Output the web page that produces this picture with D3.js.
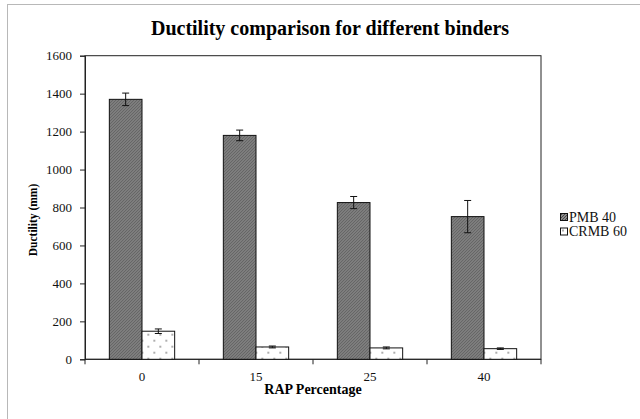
<!DOCTYPE html>
<meta charset="utf-8">
<head>
    <title>Ductility comparison</title>
    <script src="https://d3js.org/d3.v7.min.js"></script>
    <style>
        body { margin: 0; background: #fff; }
    </style>
</head>
<body>
<div id="chart"></div>
<script>
    // Data
    var categories = ["0", "15", "25", "40"];
    var seriesNames = ["PMB 40", "CRMB 60"];
    var pmbValues = [1370, 1180, 826, 752];
    var pmbErrors = [33, 28, 32, 85];
    var crmbValues = [148, 65, 60, 56];
    var crmbErrors = [12, 5, 5, 4];
    var yTicks = [0, 200, 400, 600, 800, 1000, 1200, 1400, 1600];

    var FONT = "'Liberation Serif', 'Times New Roman', Times, serif";
    var W = 640, H = 419;
    var margin = {top: 55.7, left: 85};
    var width = 541 - margin.left,
        height = 359.3 - margin.top;

    var svg = d3.select("#chart").append("svg")
        .attr("width", W).attr("height", H)
        .attr("font-family", FONT);

    // outer chart frame (only left and top edge visible)
    svg.append("rect")
        .attr("x", 7.5).attr("y", 4.5)
        .attr("width", W).attr("height", H)
        .attr("fill", "none").attr("stroke", "#b8b8b8");

    // patterns
    var defs = svg.append("defs");
    var p1 = defs.append("pattern")
        .attr("id", "hatch").attr("patternUnits", "userSpaceOnUse")
        .attr("width", 3).attr("height", 3);
    p1.append("rect").attr("width", 3).attr("height", 3).attr("fill", "#a8a8a8");
    p1.append("path").attr("d", "M0,3 L3,0 M-1,1 L1,-1 M2,4 L4,2")
        .attr("stroke", "#444").attr("stroke-width", 1.1);

    var p2 = defs.append("pattern")
        .attr("id", "dots").attr("patternUnits", "userSpaceOnUse")
        .attr("width", 12).attr("height", 12);
    p2.append("rect").attr("width", 12).attr("height", 12).attr("fill", "#fff");
    p2.append("circle").attr("cx", 3).attr("cy", 3).attr("r", 0.9).attr("fill", "#888");
    p2.append("circle").attr("cx", 9).attr("cy", 9).attr("r", 0.9).attr("fill", "#888");

    var fills = ["url(#hatch)", "url(#dots)"];

    var g = svg.append("g")
        .attr("transform", "translate(" + margin.left + "," + margin.top + ")");

    var x0 = d3.scaleBand().domain(categories).range([0, width]).paddingInner(0.427).paddingOuter(0.2135);
    var x1 = d3.scaleBand().domain(seriesNames).range([0, x0.bandwidth()]);
    var y = d3.scaleLinear().domain([0, 1600]).range([height, 0]);

    // plot frame
    g.append("rect").attr("width", width).attr("height", height)
        .attr("fill", "none").attr("stroke", "#222").attr("stroke-width", 1);

    // y axis
    var yAxis = g.append("g")
        .call(d3.axisLeft(y).tickValues(yTicks).tickFormat(d3.format("d")).tickSize(5).tickPadding(8))
        .attr("font-family", FONT).attr("font-size", 13);
    yAxis.select(".domain").attr("stroke", "#222");
    yAxis.selectAll("line").attr("stroke", "#222");
    yAxis.selectAll("text").attr("fill", "#111");

    // x axis: ticks at category boundaries
    var xAxis = g.append("g").attr("transform", "translate(0," + height + ")");
    xAxis.append("line").attr("x1", 0).attr("x2", width).attr("stroke", "#222");
    var step = x0.step();
    xAxis.selectAll(".tk").data(d3.range(categories.length + 1)).enter().append("line")
        .attr("x1", function(i) { return i * step; })
        .attr("x2", function(i) { return i * step; })
        .attr("y1", 0).attr("y2", 5).attr("stroke", "#222");
    xAxis.selectAll(".lbl").data(categories).enter().append("text")
        .attr("x", function(d) { return x0(d) + x0.bandwidth() / 2; })
        .attr("y", 22)
        .attr("text-anchor", "middle")
        .attr("font-size", 13).attr("fill", "#111")
        .text(function(d) { return d; });

    // bars
    var rows = categories.map(function(c, i) {
        return [
            {cat: c, key: seriesNames[0], v: pmbValues[i], e: pmbErrors[i], s: 0},
            {cat: c, key: seriesNames[1], v: crmbValues[i], e: crmbErrors[i], s: 1}
        ];
    });

    var groups = g.selectAll(".grp").data(rows).enter().append("g")
        .attr("transform", function(d) { return "translate(" + x0(d[0].cat) + ",0)"; });

    groups.selectAll("rect").data(function(d) { return d; }).enter().append("rect")
        .attr("x", function(d) { return x1(d.key); })
        .attr("y", function(d) { return y(d.v); })
        .attr("width", x1.bandwidth())
        .attr("height", function(d) { return height - y(d.v); })
        .attr("fill", function(d) { return fills[d.s]; })
        .attr("stroke", "#111").attr("stroke-width", 1);

    // error bars
    var eb = groups.selectAll(".eb").data(function(d) { return d; }).enter().append("g")
        .attr("stroke", "#111").attr("stroke-width", 1);
    eb.append("line")
        .attr("x1", function(d) { return x1(d.key) + x1.bandwidth() / 2; })
        .attr("x2", function(d) { return x1(d.key) + x1.bandwidth() / 2; })
        .attr("y1", function(d) { return y(d.v + d.e); })
        .attr("y2", function(d) { return y(d.v - d.e); });
    [1, -1].forEach(function(sg) {
        eb.append("line")
            .attr("x1", function(d) { return x1(d.key) + x1.bandwidth() / 2 - 3.5; })
            .attr("x2", function(d) { return x1(d.key) + x1.bandwidth() / 2 + 3.5; })
            .attr("y1", function(d) { return y(d.v + sg * d.e); })
            .attr("y2", function(d) { return y(d.v + sg * d.e); });
    });

    // titles
    svg.append("text")
        .attr("x", 330).attr("y", 35)
        .attr("text-anchor", "middle")
        .attr("font-size", 20).attr("font-weight", "bold")
        .text("Ductility comparison for different binders");

    svg.append("text")
        .attr("x", margin.left + width / 2).attr("y", 394)
        .attr("text-anchor", "middle")
        .attr("font-size", 14).attr("font-weight", "bold")
        .text("RAP Percentage");

    svg.append("text")
        .attr("transform", "translate(37,220) rotate(-90)")
        .attr("text-anchor", "middle")
        .attr("font-size", 11.5).attr("font-weight", "bold")
        .text("Ductility (mm)");

    // legend
    var legend = svg.append("g").attr("transform", "translate(560,213)");
    seriesNames.forEach(function(name, i) {
        var row = legend.append("g").attr("transform", "translate(0," + (i * 14.5) + ")");
        row.append("rect").attr("x", 0.5).attr("y", 0.5).attr("width", 7).attr("height", 7)
            .attr("fill", fills[i]).attr("stroke", "#111");
        row.append("text").attr("x", 9).attr("y", 8.5)
            .attr("font-size", 14).attr("fill", "#111")
            .text(name.replace(" ", "\u00a0"));
    });
</script>
</body>
